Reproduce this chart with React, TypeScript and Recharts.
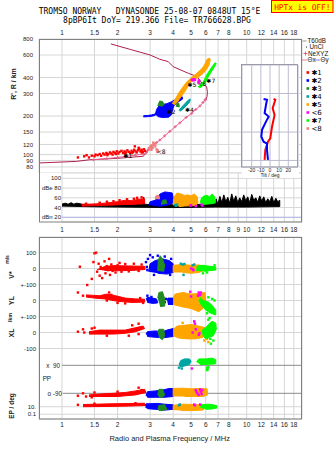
import React from "react";
import { ScatterChart, Scatter, XAxis, YAxis, CartesianGrid, ReferenceLine } from "recharts";

type Pt = [number, number];

// ---------- axes ----------
const freqTicksTop = [1, 1.5, 2, 3, 4, 5, 6, 7, 8, 10, 12, 14, 16, 18];
const freqTicksMid = [1, 1.5, 2, 3, 4, 5, 6, 7, 8, 9, 10, 12, 14, 16, 18];
const freqTicksBottom = [1, 1.5, 2, 3, 4, 5, 6, 7, 8, 10, 12, 14, 16, 18];
const heightTicks = [800, 600, 400, 300, 200, 150, 120, 100, 90, 80];
const dbTicks = [100, 80, 60, 40, 20];
const dbTickLabels = ["100", "dBe 80", "60", "40", "dBn 20"];
const driftTicks = [100, 0, -100, -200, -300, -400, -500, -864, -911];
const driftTickLabels = ["100", "0", "+-100", "0", "+-100", "0", "-100", "10.", "0.1"];
const tiltTicks = [-20, -10, 0, 10, 20];
const insetHeightTicks = [400, 300, 200, 150, 120, 100, 90];

// row offsets of the stacked lower panel (V*, YL, XL, PP x90, PP o-90, EP)
const ROW_V = 0;
const ROW_YL = -200;
const ROW_XL = -400;
const ROW_PP = -605;
const ROW_PM = -780;
const ROW_EP = -864;

// ---------- colours ----------
const RED = "#ff0000";
const BLUE = "#0000ff";
const GREEN = "#228b22";
const TEAL = "#00a4a4";
const ORANGE = "#ffa500";
const MAGENTA = "#ff00ff";
const LIME = "#00ff00";
const PINK = "#f08080";
const MAROON = "#b0204c";
const NEXYZ = "#e8608a";
const GRID = "#d6d6d6";
const FRAME = "#808080";
const legendColors = [RED, BLUE, GREEN, TEAL, ORANGE, MAGENTA, LIME, PINK];
const legendNames = ["✱1", "✱2", "✱3", "✱4", "✱5", "<6", "✱7", "<8"];

// ---------- panel A: virtual height (MHz, km) ----------
const maroonTop: Pt[] = [[1.84, 732], [2.33, 665], [3.0, 600], [3.39, 555], [3.76, 533], [4.0, 486], [4.83, 432], [5.25, 413], [5.53, 390], [5.7, 362], [6.06, 340], [6.13, 310], [6.1, 284], [6.0, 267]];
const maroonLow: Pt[] = [[0.75, 86], [1.2, 88.5], [1.4, 91], [2.0, 93.5], [2.75, 97], [2.87, 103], [2.95, 112], [3.02, 115]];
const nexyz: Pt[] = [[1.48, 91], [1.75, 93], [2.0, 95], [2.24, 97], [2.5, 99], [2.75, 101], [2.87, 104], [2.95, 109], [3.05, 114], [3.13, 119], [3.25, 124], [3.39, 130], [3.6, 140], [3.84, 152], [4.1, 165], [4.35, 177], [4.7, 195], [5.04, 210], [5.3, 225], [5.59, 240], [5.8, 255], [5.95, 267], [6.0, 270]];
const echo1: Pt[] = [[1.22, 95], [1.32, 97], [1.36, 99], [1.4, 95], [1.45, 98], [1.5, 97], [1.52, 100], [1.56, 99], [1.6, 101], [1.63, 98], [1.67, 102], [1.7, 100], [1.74, 103], [1.78, 101], [1.82, 104], [1.85, 102], [1.88, 100], [1.9, 105], [1.94, 103], [1.98, 106], [2.02, 102], [2.05, 105], [2.1, 107], [2.14, 103], [2.18, 106], [2.22, 104], [2.26, 108], [2.3, 105], [2.34, 103], [2.38, 107], [2.42, 105], [2.46, 109], [2.5, 106], [2.54, 104], [2.58, 108], [2.62, 111], [2.66, 106], [2.7, 109], [2.74, 105], [2.78, 110], [2.82, 107], [2.48, 116], [2.6, 113], [1.96, 101], [2.2, 102], [2.4, 103], [2.7, 104], [1.76, 99]];
const echo2Tail: Pt[] = [[2.76, 197], [2.95, 198], [3.1, 200], [3.2, 203], [3.2, 208], [3.05, 204], [2.9, 202], [2.76, 201]];
const echo2Blob: Pt[] = [[3.2, 205], [3.25, 225], [3.35, 240], [3.5, 246], [3.7, 250], [3.9, 258], [4.1, 268], [4.3, 278], [4.47, 284], [4.5, 272], [4.25, 257], [4.05, 243], [3.97, 225], [3.92, 205], [3.78, 196], [3.5, 195], [3.3, 198]];
const echo3a: Pt[] = [[3.3, 240], [3.38, 262], [3.5, 260], [3.58, 246], [3.48, 238]];
const echo3b: Pt[] = [[4.15, 236], [4.2, 252], [4.3, 250], [4.31, 234]];
const echo4: Pt[] = [[4.3, 222], [4.45, 235], [4.65, 252], [4.85, 268], [4.95, 272], [4.92, 258], [4.7, 240], [4.5, 225], [4.35, 218]];
const echo5: Pt[] = [[3.95, 250], [4.1, 270], [4.3, 305], [4.5, 335], [4.7, 365], [5.0, 397], [5.3, 425], [5.6, 455], [5.85, 490], [6.0, 525], [6.1, 555], [6.3, 568], [6.35, 545], [6.25, 500], [6.05, 460], [5.8, 430], [5.5, 405], [5.2, 385], [4.95, 365], [4.75, 330], [4.55, 300], [4.35, 275], [4.2, 255], [4.05, 245]];
const echo6: Pt[] = [[5.05, 383], [5.1, 386], [5.15, 380], [5.2, 388], [5.5, 372], [5.52, 380], [5.48, 365], [5.25, 384]];
const echo7: Pt[] = [[5.45, 338], [5.6, 348], [5.85, 375], [6.05, 415], [6.3, 455], [6.55, 495], [6.75, 522], [6.84, 515], [6.65, 478], [6.4, 438], [6.15, 398], [5.95, 362], [5.75, 342], [5.55, 332]];
const echo8: Pt[] = [[2.95, 112], [3.0, 115], [3.05, 118], [3.1, 113], [3.15, 120], [3.2, 116], [3.25, 110], [3.3, 108], [3.05, 109], [3.2, 122], [3.28, 105], [3.12, 124]];
const echoLabels = [
  { x: 2.15, y: 97.5, t: "✱1" },
  { x: 3.69, y: 216, t: "✱2" },
  { x: 4.63, y: 223, t: "✱4" },
  { x: 4.78, y: 354, t: "✱5" },
  { x: 5.42, y: 360, t: "<6" },
  { x: 6.05, y: 378, t: "✱7" },
  { x: 3.26, y: 105, t: "<8" },
];

// ---------- inset: tilt (deg, km) ----------
const tiltX: Pt[] = [[3.9, 272], [5.8, 268], [2.9, 230], [5.0, 204], [2.2, 165], [0.3, 134], [-2.2, 126], [-3.3, 119], [-5.1, 109], [-5.9, 91]];
const tiltY: Pt[] = [[-7, 272], [-3.3, 268], [-4.4, 244], [-5.9, 211], [-1.5, 198], [-4.4, 181], [-8.7, 156], [-9.5, 138], [-7, 126], [-3.3, 122], [-3.3, 109], [-2.2, 91]];

// ---------- panel B: amplitude (MHz, dB) ----------
const noise: Pt[] = [[1.0, 47], [1.04, 49], [1.08, 47], [1.12, 50], [1.16, 47], [1.2, 49], [1.25, 48], [1.3, 46], [1.5, 45], [2.0, 46], [2.5, 46], [2.74, 47], [2.77, 61], [2.8, 47], [3.0, 46], [4.0, 46], [5.0, 46], [6.0, 47], [6.8, 48], [6.83, 58], [6.98, 47], [7.16, 63], [7.34, 50], [7.52, 66], [7.71, 52], [7.9, 61], [8.1, 49], [8.3, 68], [8.51, 53], [8.73, 64], [8.95, 50], [9.17, 60], [9.4, 52], [9.64, 66], [9.88, 54], [10.13, 62], [10.39, 50], [10.65, 67], [10.92, 55], [11.2, 60], [11.48, 51], [11.77, 64], [12.07, 53], [12.37, 62], [12.69, 50], [13.0, 58], [13.34, 52], [13.68, 63], [14.02, 50], [14.38, 59], [14.74, 52], [15.1, 55], [15.1, 42], [10.0, 41], [6.8, 41], [4.0, 40], [2.0, 41], [1.3, 42], [1.0, 43]];
const dbRed: Pt[] = [[1.28, 43], [1.5, 44], [1.8, 45], [2.1, 46], [2.5, 47], [2.8, 48], [2.8, 58], [2.6, 57], [2.4, 54], [2.2, 55], [2.0, 52], [1.8, 50], [1.6, 48], [1.4, 47], [1.28, 47]];
const dbRedDots: Pt[] = [[1.6, 50], [1.75, 52], [2.05, 55], [2.25, 57], [2.45, 58], [2.55, 60], [2.7, 61], [2.35, 51], [1.9, 53], [1.35, 48]];
const dbBlue: Pt[] = [[2.95, 45], [3.0, 52], [3.2, 55], [3.3, 62], [3.4, 68], [3.6, 72], [3.8, 71], [3.95, 70], [4.0, 60], [3.95, 48], [3.7, 45], [3.4, 43], [3.1, 44]];
const dbPink: Pt[] = [[3.2, 57], [3.22, 64], [3.35, 65], [3.38, 57]];
const dbGreen: Pt[] = [[3.45, 46], [3.5, 55], [3.65, 56], [3.7, 48]];
const dbOrange: Pt[] = [[4.0, 45], [4.05, 62], [4.2, 70], [4.4, 68], [4.6, 65], [4.8, 66], [5.0, 64], [5.2, 68], [5.4, 62], [5.45, 50], [5.3, 44], [5.0, 44], [4.6, 43], [4.3, 42]];
const dbLime: Pt[] = [[5.6, 50], [5.7, 60], [5.9, 64], [6.1, 65], [6.3, 62], [6.5, 68], [6.7, 62], [6.75, 50], [6.5, 48], [6.0, 47], [5.7, 46]];
const dbMagenta: Pt[] = [[4.95, 44], [5.0, 45], [5.7, 46], [5.75, 44], [5.3, 43]];
const dbTeal: Pt[] = [[4.1, 45], [4.15, 44], [4.2, 46]];

// ---------- panel C: drift rows (MHz, row units) ----------
const vRed: Pt[] = [[1.55, -8], [1.7, 12], [1.9, 18], [2.3, 16], [2.8, 14], [2.82, -6], [2.4, -12], [2.0, -14], [1.7, -12]];
const vRedDots: Pt[] = [[1.25, 11], [1.37, -103], [1.45, -65], [1.5, 95], [1.48, 40], [1.53, 99], [1.55, -20], [1.58, 30], [1.6, -45], [1.62, 10], [1.65, -60], [1.68, 0], [1.7, 45], [1.72, -30], [1.75, 15], [1.78, -10], [1.8, 60], [1.82, -40], [1.85, 25], [1.88, -15], [1.9, 5], [1.95, -25], [2.0, 20], [2.05, 35], [2.1, -20], [2.2, 28], [2.3, -18], [2.45, 30], [2.6, -15], [2.7, 25]];
const vBlue: Pt[] = [[2.95, -20], [3.0, 30], [3.2, 50], [3.5, 60], [3.8, 50], [4.0, 30], [4.0, -25], [3.7, -35], [3.3, -30]];
const vBlueDots: Pt[] = [[2.85, 40], [2.88, 10], [2.9, -10], [2.92, 60], [3.0, 84], [3.1, 70], [3.3, 80], [3.6, 75], [3.9, 60], [3.15, -40], [3.85, -40]];
const vGreen: Pt[] = [[3.3, -15], [3.32, 50], [3.4, 80], [3.5, 60], [3.6, 20], [3.55, -20]];
const vOrange: Pt[] = [[4.0, -25], [4.0, 20], [4.5, 25], [5.0, 20], [5.5, 22], [5.9, 15], [5.95, -10], [5.5, -25], [5.0, -30], [4.5, -25]];
const vTeal: Pt[] = [[4.4, 30], [4.5, 25], [4.6, 28], [5.1, 20], [5.2, 25], [4.55, -40]];
const vMagenta: Pt[] = [[5.0, 0], [5.1, -5], [5.5, 5], [5.15, -10]];
const vLime: Pt[] = [[5.35, -15], [5.4, 15], [5.8, 20], [6.2, 15], [6.6, 12], [6.8, 10], [6.8, -10], [6.4, -12], [5.9, -18]];
const vLimeDots: Pt[] = [[6.7, 20], [5.8, -30], [6.1, -25]];

const ylRed: Pt[] = [[1.35, 35], [1.6, 30], [1.75, 40], [1.95, 30], [2.2, 15], [2.5, 10], [2.8, 8], [2.8, -10], [2.4, -12], [2.0, -5], [1.7, 10], [1.5, 15], [1.35, 22]];
const ylRedDots: Pt[] = [[1.22, 50], [1.3, 30], [1.8, 50], [1.85, 35], [2.0, -15], [2.2, -18], [1.75, 0], [1.9, 5], [2.5, 0], [2.65, 15], [2.75, -15]];
const ylBlue: Pt[] = [[2.85, 10], [2.9, 20], [3.1, 15], [3.25, 10], [3.3, -15], [3.1, -18], [2.9, -12]];
const ylBlue2: Pt[] = [[3.7, 5], [3.75, 15], [4.0, 15], [4.0, -25], [3.75, -25]];
const ylBlueDots: Pt[] = [[2.9, 30], [3.05, 22], [3.5, 25], [3.6, -10], [3.65, 10]];
const ylGreen: Pt[] = [[3.3, 15], [3.35, 50], [3.5, 55], [3.6, 10], [3.6, -35], [3.4, -38]];
const ylOrange: Pt[] = [[4.0, 20], [4.1, 40], [4.5, 50], [5.0, 40], [5.6, 45], [5.95, 50], [6.0, 0], [5.8, -50], [5.5, -70], [5.0, -50], [4.5, -40], [4.0, -25]];
const ylMagenta: Pt[] = [[5.5, 50], [5.55, 40], [5.45, 30], [5.0, 25], [5.6, 35], [5.65, 50], [4.95, 55]];
const ylLime: Pt[] = [[5.6, 20], [5.8, 0], [6.2, -10], [6.5, -30], [6.8, -60], [6.8, -90], [6.4, -80], [6.0, -60], [5.7, -30], [5.5, 0]];
const ylLimeDots: Pt[] = [[6.2, 20], [6.5, 10], [6.7, 0], [6.1, -80]];

const xlRed: Pt[] = [[1.4, 5], [1.6, 15], [1.9, 15], [2.2, 15], [2.5, 30], [2.75, 40], [2.8, 25], [2.5, 5], [2.2, -5], [1.9, -10], [1.6, -10], [1.4, -10]];
const xlRedDots: Pt[] = [[1.22, 5], [1.3, 20], [1.32, 0], [1.45, 25], [1.5, 30], [2.4, 45], [2.6, 55], [2.3, -20], [1.75, -20], [2.6, -10]];
const xlBlue: Pt[] = [[2.85, -10], [2.9, 5], [3.2, 10], [3.5, 5], [3.7, 15], [4.0, 25], [4.0, -25], [3.6, -32], [3.2, -30], [2.9, -25]];
const xlGreen: Pt[] = [[3.3, 0], [3.35, 20], [3.55, 20], [3.6, -20], [3.5, -45], [3.35, -30]];
const xlOrange: Pt[] = [[4.0, 20], [4.2, 40], [4.6, 45], [5.0, 50], [5.5, 40], [6.0, 30], [6.1, 0], [5.8, -30], [5.3, -40], [4.8, -40], [4.3, -35], [4.0, -20]];
const xlOrangeDots: Pt[] = [[5.9, -50], [6.1, -40], [6.2, -60], [4.5, 60], [5.2, 65]];
const xlMagenta: Pt[] = [[5.2, 70], [5.25, 55], [5.3, 20], [5.5, -15], [5.55, -5], [5.1, 0]];
const xlLime: Pt[] = [[5.7, 0], [5.8, 20], [6.0, 30], [6.2, 50], [6.5, 70], [6.8, 60], [6.85, 20], [6.6, -20], [6.3, -30], [6.0, -40], [5.8, -20]];
const xlLimeDots: Pt[] = [[6.2, 80], [6.3, 90], [6.6, -50], [6.35, -40], [6.4, -70]];

const ppTeal: Pt[] = [[4.3, 5], [4.4, 30], [4.6, 40], [4.9, 40], [5.0, 25], [4.9, 5], [4.6, -5], [4.35, -10]];
const ppTealDots: Pt[] = [[4.3, -15], [4.45, -20]];
const ppLime: Pt[] = [[5.35, 20], [5.5, 40], [6.0, 40], [6.5, 45], [6.8, 35], [6.8, 10], [6.4, 7], [6.0, 5], [5.6, 5]];
const ppLimeDots: Pt[] = [[6.1, -15], [6.15, -25], [6.2, -10], [6.1, -30]];
const ppMagenta: Pt[] = [[5.05, -20]];

const pmRed: Pt[] = [[1.4, -10], [1.6, -5], [1.9, 0], [2.2, 5], [2.5, 15], [2.8, 25], [2.85, 5], [2.5, -10], [2.0, -20], [1.6, -20], [1.4, -20]];
const pmRedDots: Pt[] = [[1.22, -15], [1.3, 0], [1.35, -20], [1.5, 5], [1.45, -25], [2.6, 35], [2.7, 20], [2.0, 10]];
const pmBlue: Pt[] = [[2.85, -15], [2.9, 10], [3.2, 15], [3.5, 20], [3.8, 30], [4.0, 30], [4.0, -20], [3.6, -25], [3.2, -25], [2.9, -25]];
const pmGreen: Pt[] = [[3.3, -10], [3.35, 25], [3.5, 25], [3.6, -10], [3.5, -25], [3.35, -25]];
const pmOrange: Pt[] = [[4.0, -20], [4.0, 30], [4.5, 32], [5.0, 28], [5.5, 30], [6.1, 28], [6.15, -10], [5.8, -20], [5.2, -20], [4.6, -20]];
const pmMagenta: Pt[] = [[5.3, 20], [5.35, 10], [5.4, 0], [5.6, 25], [5.65, 10], [5.7, -5], [5.5, -10], [5.75, 20]];

const epRed: Pt[] = [[1.3, 14], [1.8, 18], [2.3, 20], [2.8, 22], [2.85, 8], [2.3, 4], [1.8, 2], [1.3, 0]];
const epRedDots: Pt[] = [[1.22, 12], [1.5, 19], [2.5, 22]];
const epBlue: Pt[] = [[2.85, -8], [2.85, 18], [3.3, 21], [3.6, 16], [4.0, 12], [4.0, -16], [3.6, -21], [3.2, -16], [2.9, -12]];
const epGreen: Pt[] = [[3.3, -16], [3.35, 9], [3.6, 12], [3.7, -16], [3.5, -24], [3.35, -24]];
const epOrange: Pt[] = [[4.0, -21], [4.0, 9], [4.5, 16], [5.2, 14], [5.9, 12], [6.0, -4], [5.8, -21], [5.0, -24], [4.4, -24]];
const epLime: Pt[] = [[5.6, -6], [5.7, 12], [6.2, 16], [6.6, 12], [6.9, 6], [6.9, -8], [6.5, -14], [6.0, -16]];
const epMagenta: Pt[] = [[5.2, 14], [5.25, 9], [5.6, 14]];
const epTeal: Pt[] = [[4.3, 9], [4.35, 14]];

const rowLabels = [
  { x: 0.975, y: ROW_PP, t: "x  90", a: "end" },
  { x: 1.0, y: ROW_PM, t: "o -90", a: "end" },
  { x: 0.786, y: -690, t: "PP", a: "start" },
];

// ---------- helpers ----------
const FONT = "'Liberation Sans', Arial, sans-serif";
const tickStyle = { fontSize: 6.5, fill: "#222", fontFamily: FONT };
const yTickStyle = { fontSize: 6, fill: "#222", fontFamily: FONT };
const F_A = [0.751, 19.93];
const F_B = [1.0, 19.93];

const toXY = (pts: Pt[], dy = 0) => pts.map(([x, y]) => ({ x, y: y + dy }));
const noShape = () => <g />;

function blob(key: string, pts: Pt[], color: string, dy = 0) {
  return (
    <Scatter
      key={key}
      data={toXY(pts, dy)}
      line={{ stroke: color, strokeWidth: 1, fill: color, strokeLinejoin: "round" }}
      shape={noShape}
      isAnimationActive={false}
    />
  );
}

function squares(key: string, pts: Pt[], color: string, dy = 0, s = 2.4) {
  return (
    <Scatter
      key={key}
      data={toXY(pts, dy)}
      shape={(p: any) => <rect x={p.cx - s / 2} y={p.cy - s / 2} width={s} height={s} fill={color} />}
      isAnimationActive={false}
    />
  );
}

function trace(key: string, pts: Pt[], color: string, w = 1) {
  return (
    <Scatter
      key={key}
      data={toXY(pts)}
      line={{ stroke: color, strokeWidth: w, fill: "none" }}
      shape={noShape}
      isAnimationActive={false}
    />
  );
}

const abs = (top: number, left = 0): React.CSSProperties => ({ position: "absolute", top, left });

export default function App() {
  return (
    <div style={{ position: "absolute", left: 0, top: 0, width: 335, height: 451, background: "#fff", overflow: "hidden" }}>
      {/* panel A: virtual height */}
      <div style={abs(0)}>
        <ScatterChart width={335} height={173} margin={{ top: 29, right: 33, bottom: 0, left: 0 }}>
          <CartesianGrid stroke={GRID} />
          <XAxis type="number" dataKey="x" scale="log" domain={F_A} allowDataOverflow orientation="top" height={10}
            ticks={freqTicksTop} interval={0} axisLine={false} tickLine={false} tickSize={4} tickMargin={0} tick={tickStyle} />
          <YAxis type="number" dataKey="y" scale="log" domain={[71.8, 800]} allowDataOverflow width={39}
            ticks={heightTicks} interval={0} axisLine={false} tickLine={false} tickSize={6} tickMargin={0} tick={yTickStyle} />
          {trace("mt", maroonTop, MAROON, 1)}
          {trace("ml", maroonLow, MAROON, 1)}
          {trace("nx", nexyz, NEXYZ, 1)}
          <Scatter data={toXY(nexyz)} isAnimationActive={false}
            shape={(p: any) => <path d={`M${p.cx - 1.5},${p.cy}h3M${p.cx},${p.cy - 1.5}v3`} stroke={NEXYZ} strokeWidth={1} />} />
          {squares("e1", echo1, RED)}
          {blob("e2t", echo2Tail, BLUE)}
          {blob("e2b", echo2Blob, BLUE)}
          {blob("e5", echo5, ORANGE)}
          {blob("e3a", echo3a, GREEN)}
          {blob("e3b", echo3b, GREEN)}
          {blob("e4", echo4, TEAL)}
          {squares("e6", echo6, MAGENTA)}
          {blob("e7", echo7, LIME)}
          {squares("e8", echo8, PINK)}
          <Scatter data={echoLabels} isAnimationActive={false}
            shape={(p: any) => (
              <text x={p.cx} y={p.cy + 2.2} fontSize={6} fontFamily="DejaVu Sans" fill="#000">{p.payload.t}</text>
            )} />
        </ScatterChart>
      </div>

      {/* panel B: amplitude */}
      <div style={abs(0)}>
        <ScatterChart width={335} height={240} margin={{ top: 173, right: 33, bottom: 6, left: 0 }}>
          <CartesianGrid stroke={GRID} />
          <XAxis type="number" dataKey="x" scale="log" domain={F_B} allowDataOverflow height={12}
            ticks={freqTicksMid} interval={0} axisLine={false} tickLine={false} tickSize={3} tickMargin={2} tick={tickStyle} />
          <YAxis type="number" dataKey="y" domain={[10.4, 110.9]} allowDataOverflow width={62}
            ticks={dbTicks} interval={0} axisLine={false} tickLine={false} tickSize={1} tickMargin={0} tick={yTickStyle}
            tickFormatter={(v: number) => dbTickLabels[dbTicks.indexOf(v)] ?? String(v)} />
          <ReferenceLine y={20} stroke="#b4b4e6" />
          {blob("n", noise, "#000")}
          {blob("r", dbRed, RED)}
          {squares("rd", dbRedDots, RED)}
          {blob("b", dbBlue, BLUE)}
          {blob("p", dbPink, PINK)}
          {blob("g", dbGreen, GREEN)}
          {blob("o", dbOrange, ORANGE)}
          {blob("l", dbLime, LIME)}
          {squares("m", dbMagenta, MAGENTA)}
          {squares("t", dbTeal, TEAL)}
        </ScatterChart>
      </div>

      {/* panel C: drift velocities, locations, polarisation */}
      <div style={abs(0)}>
        <ScatterChart width={335} height={451} margin={{ top: 237, right: 33, bottom: 22, left: 0 }}>
          <CartesianGrid stroke={GRID} />
          <XAxis type="number" dataKey="x" scale="log" domain={F_A} allowDataOverflow height={10}
            ticks={freqTicksBottom} interval={0} axisLine={false} tickLine={false} tickSize={3} tickMargin={0} tick={tickStyle} />
          <YAxis type="number" dataKey="y" domain={[-940.6, 196.9]} allowDataOverflow width={39}
            ticks={driftTicks} interval={0} axisLine={false} tickLine={false} tickSize={3} tickMargin={0} tick={yTickStyle}
            tickFormatter={(v: number) => driftTickLabels[driftTicks.indexOf(v)] ?? String(v)} />
          <ReferenceLine segment={[{ x: 1.0, y: ROW_PP }, { x: 19.93, y: ROW_PP }]} stroke="#8a8a8a" />
          <ReferenceLine segment={[{ x: 1.01, y: ROW_PM }, { x: 19.93, y: ROW_PM }]} stroke="#8a8a8a" />
          <Scatter data={rowLabels} isAnimationActive={false}
            shape={(p: any) => (
              <text x={p.cx} y={p.cy + 2.2} fontSize={6.3} fontFamily={FONT} fill="#222" textAnchor={p.payload.a} style={{ whiteSpace: "pre" }}>{p.payload.t}</text>
            )} />

          {blob("vr", vRed, RED, ROW_V)}
          {squares("vrd", vRedDots, RED, ROW_V)}
          {blob("vb", vBlue, BLUE, ROW_V)}
          {squares("vbd", vBlueDots, BLUE, ROW_V)}
          {blob("vg", vGreen, GREEN, ROW_V)}
          {blob("vo", vOrange, ORANGE, ROW_V)}
          {squares("vt", vTeal, TEAL, ROW_V)}
          {squares("vm", vMagenta, MAGENTA, ROW_V)}
          {blob("vl", vLime, LIME, ROW_V)}
          {squares("vld", vLimeDots, LIME, ROW_V)}

          {blob("yr", ylRed, RED, ROW_YL)}
          {squares("yrd", ylRedDots, RED, ROW_YL)}
          {blob("yb", ylBlue, BLUE, ROW_YL)}
          {blob("yb2", ylBlue2, BLUE, ROW_YL)}
          {squares("ybd", ylBlueDots, BLUE, ROW_YL)}
          {blob("yo", ylOrange, ORANGE, ROW_YL)}
          {blob("yg", ylGreen, GREEN, ROW_YL)}
          {blob("yl", ylLime, LIME, ROW_YL)}
          {squares("yld", ylLimeDots, LIME, ROW_YL)}
          {squares("ym", ylMagenta, MAGENTA, ROW_YL)}

          {blob("xr", xlRed, RED, ROW_XL)}
          {squares("xrd", xlRedDots, RED, ROW_XL)}
          {blob("xb", xlBlue, BLUE, ROW_XL)}
          {blob("xo", xlOrange, ORANGE, ROW_XL)}
          {squares("xod", xlOrangeDots, ORANGE, ROW_XL)}
          {blob("xg", xlGreen, GREEN, ROW_XL)}
          {blob("xl", xlLime, LIME, ROW_XL)}
          {squares("xld", xlLimeDots, LIME, ROW_XL)}
          {squares("xm", xlMagenta, MAGENTA, ROW_XL)}

          {blob("pt", ppTeal, TEAL, ROW_PP)}
          {squares("ptd", ppTealDots, TEAL, ROW_PP)}
          {blob("pl", ppLime, LIME, ROW_PP)}
          {squares("pld", ppLimeDots, LIME, ROW_PP)}
          {squares("pm", ppMagenta, MAGENTA, ROW_PP)}

          {blob("mr", pmRed, RED, ROW_PM)}
          {squares("mrd", pmRedDots, RED, ROW_PM)}
          {blob("mb", pmBlue, BLUE, ROW_PM)}
          {blob("mo", pmOrange, ORANGE, ROW_PM)}
          {blob("mg", pmGreen, GREEN, ROW_PM)}
          {squares("mm", pmMagenta, MAGENTA, ROW_PM)}

          {blob("er", epRed, RED, ROW_EP)}
          {squares("erd", epRedDots, RED, ROW_EP)}
          {blob("eb", epBlue, BLUE, ROW_EP)}
          {blob("eo", epOrange, ORANGE, ROW_EP)}
          {blob("eg", epGreen, GREEN, ROW_EP)}
          {blob("el", epLime, LIME, ROW_EP)}
          {squares("em", epMagenta, MAGENTA, ROW_EP)}
          {squares("et", epTeal, TEAL, ROW_EP)}
        </ScatterChart>
      </div>

      {/* tilt inset */}
      <div style={{ position: "absolute", left: 241.5, top: 64.5, width: 57, height: 113, background: "#fff" }} />
      <div style={abs(0)}>
        <ScatterChart width={335} height={180} margin={{ top: 65, right: 37, bottom: 3, left: 242 }}>
          <CartesianGrid stroke="#bcbcd0" />
          <XAxis type="number" dataKey="x" domain={[-30.6, 30.6]} allowDataOverflow height={10}
            ticks={tiltTicks} interval={0} axisLine={false} tickLine={false} tickSize={1} tickMargin={0}
            tick={{ fontSize: 5, fill: "#222", fontFamily: FONT }} />
          <YAxis type="number" dataKey="y" scale="log" domain={[80, 501]} allowDataOverflow hide ticks={insetHeightTicks} />
          {trace("tx", tiltX, RED, 2)}
          {trace("ty", tiltY, BLUE, 2)}
        </ScatterChart>
      </div>

      {/* frames, titles, legend */}
      <svg width={335} height={451} style={{ position: "absolute", left: 0, top: 0 }} fontFamily={FONT}>
        <rect x={39.5} y={39.5} width={262} height={182.5} fill="none" stroke={FRAME} />
        <rect x={39.5} y={237.5} width={262} height={181.5} fill="none" stroke={FRAME} />
        <rect x={241.5} y={64.5} width={56} height={102.5} fill="none" stroke="#9a9aaa" />
        <text x={270} y={177} fontSize={5} textAnchor="middle" fill="#222">Tilt / deg</text>

        <g fontFamily="'DejaVu Sans Mono', monospace" fontSize={8} fill="#000">
          <text x={149.5} y={14.2} textAnchor="middle" style={{ whiteSpace: "pre" }}>TROMSO NORWAY   DYNASONDE 25-08-07 0848UT 15°E</text>
          <text x={157} y={22.8} textAnchor="middle" style={{ whiteSpace: "pre" }}>8pBP6It DoY= 219.366 File= TR766628.BPG</text>
        </g>
        <rect x={271.5} y={0.5} width={61.5} height={12} fill="#ffff00" stroke="#ff0000" />
        <text x={302.3} y={10} textAnchor="middle" fontFamily="'DejaVu Sans Mono', monospace" fontSize={7.8} fill="#ff0000">HPTx is OFF!</text>

        <g fontWeight="bold" fill="#222">
          <text transform="translate(16,84) rotate(-90)" textAnchor="middle" fontSize={7}>R', R / km</text>
          <text transform="translate(13.5,275) rotate(-90)" textAnchor="middle" fontSize={7}>V*</text>
          <text transform="translate(8.8,259.5) rotate(-90)" textAnchor="middle" fontSize={5}>m/s</text>
          <text transform="translate(14,300.5) rotate(-90)" textAnchor="middle" fontSize={7}>YL</text>
          <text transform="translate(11.8,317.5) rotate(-90)" textAnchor="middle" fontSize={5.5}>/km</text>
          <text transform="translate(14,333) rotate(-90)" textAnchor="middle" fontSize={7}>XL</text>
          <text transform="translate(14,406) rotate(-90)" textAnchor="middle" fontSize={6.5}>EP / deg</text>
        </g>
        <text x={169.7} y={440.5} textAnchor="middle" fontSize={7.5} fill="#222">Radio and Plasma Frequency / MHz</text>

        <g fontSize={6.3} fill="#111">
          <line x1={302.5} x2={306.5} y1={41} y2={41} stroke="#999" />
          <text x={307.5} y={43.3}>T60dB</text>
          <circle cx={306.5} cy={47} r={0.6} fill="#000" />
          <text x={309.5} y={49.3}>UnCl</text>
          <path d="M303.5,53.5h4M305.5,51.5v4" stroke={NEXYZ} />
          <text x={308} y={55.8}>NeXYZ</text>
          <line x1={302} x2={307} y1={60} y2={60} stroke={PINK} />
          <text x={307.5} y={62.3}>Θx</text>
          <line x1={315} x2={320} y1={60} y2={60} stroke="#8080ff" />
          <text x={320.5} y={62.3}>Θy</text>
        </g>
        {legendNames.map((n, i) => (
          <g key={n}>
            <rect x={306.5} y={72.5 + 8 * i - 1.3} width={2.6} height={2.6} fill={legendColors[i]} />
            <text x={311.5} y={72.5 + 8 * i + 2.5} fontSize={7} fontFamily="DejaVu Sans" fill="#000">{n}</text>
          </g>
        ))}
      </svg>
    </div>
  );
}
